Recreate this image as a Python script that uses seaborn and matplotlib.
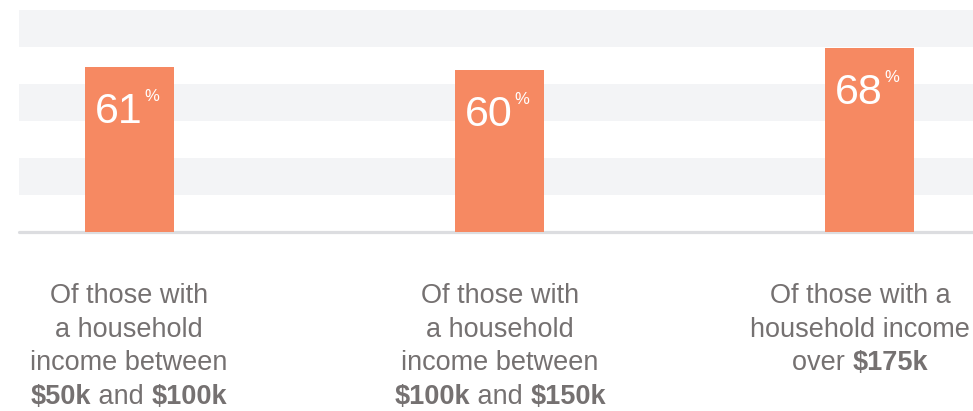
import matplotlib
matplotlib.use("Agg")
import matplotlib.pyplot as plt
import matplotlib.transforms as mtrans
import seaborn as sns
import numpy as np
import pandas as pd

# ---------------- data ----------------
categories = ["$50k-$100k", "$100k-$150k", "$175k+"]
values = [61, 60, 68]
label_lines = [
    [[("Of those with", "normal")],
     [("a household", "normal")],
     [("income between", "normal")],
     [("$50k", "bold"), (" and ", "normal"), ("$100k", "bold")]],
    [[("Of those with", "normal")],
     [("a household", "normal")],
     [("income between", "normal")],
     [("$100k", "bold"), (" and ", "normal"), ("$150k", "bold")]],
    [[("Of those with a", "normal")],
     [("household income", "normal")],
     [("over ", "normal"), ("$175k", "bold")]],
]

# ---------------- style ----------------
BAR = "#F68962"
BAND = "#F3F4F6"
BASE = "#DCDDE0"
TXT = "#757171"
FONT = "Liberation Sans"
W, H = 973, 411

sns.set_theme(style="white")
plt.rcParams["font.family"] = [FONT, "DejaVu Sans"]

fig = plt.figure(figsize=(W / 100, H / 100), dpi=100)
ax = fig.add_axes([19 / W, (H - 232.5) / H, (W - 19) / W, 222.5 / H])

df = pd.DataFrame({"cat": categories, "val": values})
sns.barplot(data=df, x="cat", y="val", color=BAR, saturation=1, width=0.24,
            linewidth=0, edgecolor=BAR, ax=ax, zorder=3)

ymax = 82
ax.set_ylim(0, ymax)
ax.set_xlim(-0.2986, 2.2797)

edges = np.linspace(0, ymax, 7)
for k in range(6):
    if k % 2 == 1:
        ax.axhspan(edges[k], edges[k + 1], color=BAND, lw=0, zorder=0)
ax.axhline(0, color=BASE, lw=2.3, zorder=1, clip_on=False)

for p in ax.patches:
    p.set_clip_on(False)

ax.set_axis_off()

PX = 72 / 100  # points per pixel

# value labels
for i, v in enumerate(values):
    ax.annotate(f"{v}", xy=(i, v), xytext=(13 * PX, -56 * PX),
                textcoords="offset points", ha="right", va="baseline",
                fontsize=31, color="white", family=FONT, zorder=5)
    ax.annotate("%", xy=(i, v), xytext=(15 * PX, -34 * PX),
                textcoords="offset points", ha="left", va="baseline",
                fontsize=12, color="white", family=FONT, zorder=5)

# category labels under the bars (mixed weights)
FS = 19.5
renderer = fig.canvas.get_renderer()
ident = mtrans.IdentityTransform()


def text_width(s, weight):
    t1 = fig.text(0, 0, "|" + s + "|", fontsize=FS, fontweight=weight, family=FONT)
    t2 = fig.text(0, 0, "||", fontsize=FS, fontweight=weight, family=FONT)
    w = t1.get_window_extent(renderer).width - t2.get_window_extent(renderer).width
    t1.remove()
    t2.remove()
    return w


baselines = [303, 336.5, 370, 403.5]
x_shift = [-0.5, 0.5, -9.5]
for i, lines in enumerate(label_lines):
    cx = ax.transData.transform((i, 0))[0] + x_shift[i]
    for j, segs in enumerate(lines):
        widths = [text_width(s, w) for s, w in segs]
        x = cx - sum(widths) / 2
        y = H - baselines[j]
        for (s, w), wd in zip(segs, widths):
            fig.text(x, y, s, transform=ident, fontsize=FS, fontweight=w,
                     color=TXT, family=FONT, ha="left", va="baseline")
            x += wd

fig.savefig("out.png", dpi=100)
